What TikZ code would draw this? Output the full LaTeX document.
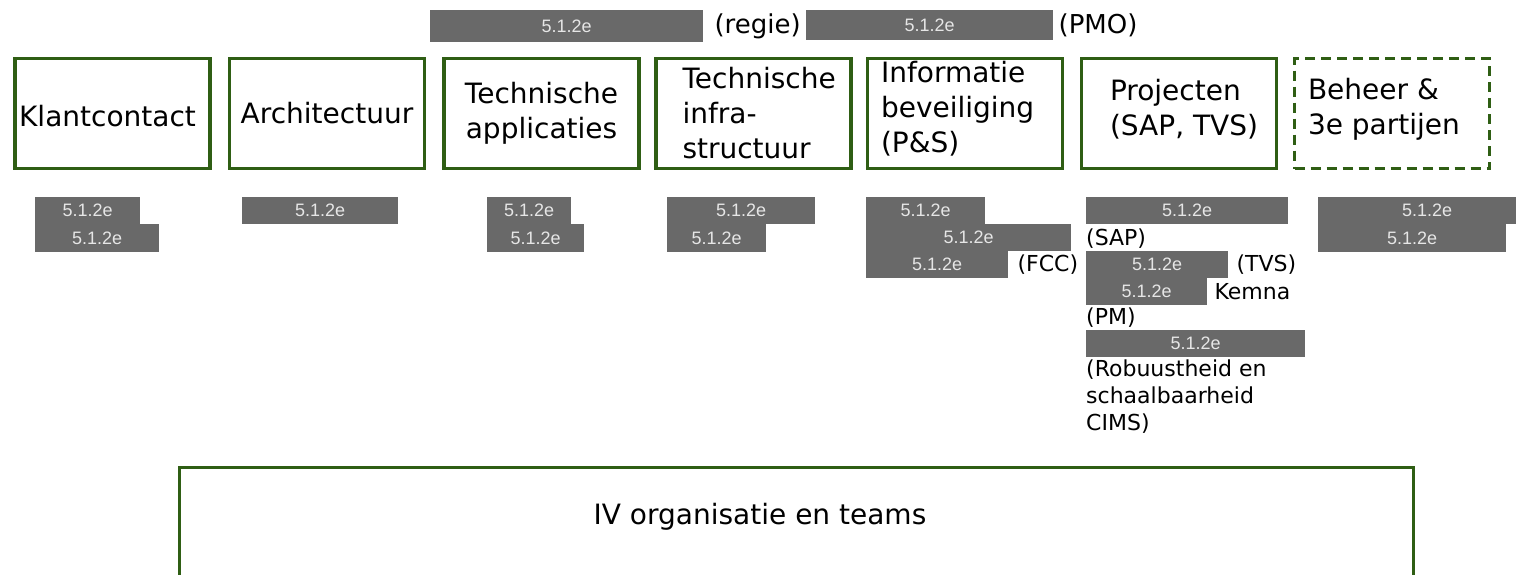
\documentclass[tikz,border=0pt]{standalone}
\usepackage{fontspec}
\setmainfont{DejaVu Sans}
\newfontfamily\barfont{Liberation Sans}
\usetikzlibrary{positioning}
\definecolor{ivgreen}{HTML}{2F5E14}
\definecolor{bargray}{HTML}{696969}
\definecolor{bartext}{HTML}{E6E6E6}
\newcommand{\unitfont}{\fontsize{28}{35}\selectfont}
\newcommand{\notefont}{\fontsize{22}{27}\selectfont}
\newcommand{\topfont}{\fontsize{26}{32}\selectfont}
\tikzset{
  unitbox/.style={draw=ivgreen, line width=3.4pt, minimum width=195pt, minimum height=110pt,
    inner sep=0pt, font=\unitfont, align=center},
  extbox/.style={unitbox, dash pattern=on 10pt off 6pt},
  unittext/.style={font=\unitfont, align=left, inner sep=0pt, anchor=west},
  grayblock/.style={fill=bargray, text=bartext, font=\barfont\fontsize{18}{20}\selectfont,
    inner sep=0pt, anchor=north west},
  note/.style={font=\notefont, inner sep=0pt, align=left},
}

\begin{document}
\begin{tikzpicture}[x=1pt,y=-1pt]
                \useasboundingbox (0,0) rectangle (1516,574);

                % Top bars
                \node[grayblock, minimum width=273pt, minimum height=32pt] (regbar) at (430,10) {5.1.2e};
                \node[font=\topfont, inner sep=0pt, right=11pt of regbar] (regie) {(regie)};
                \node[grayblock, minimum width=247pt, minimum height=30pt] (pmobar) at (806,10) {5.1.2e};
                \node[font=\topfont, inner sep=0pt, right=5pt of pmobar] (pmo) {(PMO)};

                % Units
                \node[unitbox] (klant) at (112.5,113.5) {};
                \node[font=\unitfont, inner sep=0pt] (klanttext) at ([xshift=-5pt,yshift=-3pt]klant.center) {Klantcontact};
                \node[unitbox] (arch) at (327,113.5) {Architectuur};
                \node[unitbox] (techapp) at (541.5,113.5) {Technische\\applicaties};
                \node[unitbox] (infra) at (753.5,113.5) {};
                \node[unittext] (infratext) at ([xshift=28pt]infra.west) {Technische\\infra-\\structuur};
                \node[unitbox] (info) at (965,113.5) {};
                \node[unittext] (infotext) at ([xshift=15pt,yshift=5pt]info.west) {Informatie\\beveiliging\\(P\&S)};
                \node[unitbox] (proj) at (1179,113.5) {};
                \node[unittext] (projtext) at ([xshift=30pt,yshift=4.5pt]proj.west) {Projecten\\(SAP, TVS)};
                \node[extbox] (beheer) at (1392,113.5) {};
                \node[unittext] (beheertext) at ([xshift=15pt,yshift=4.5pt]beheer.west) {Beheer \&\\3e partijen};

                % Names below the units
                \node[grayblock, minimum width=105pt, minimum height=27pt] (klant1) at (35,197) {5.1.2e};
                \node[grayblock, minimum width=124pt, minimum height=28pt] (klant2) at (35,224) {5.1.2e};

                \node[grayblock, minimum width=156pt, minimum height=27pt] (arch1) at (242,197) {5.1.2e};

                \node[grayblock, minimum width=84pt, minimum height=27pt] (techapp1) at (487,197) {5.1.2e};
                \node[grayblock, minimum width=97pt, minimum height=28pt] (techapp2) at (487,224) {5.1.2e};

                \node[grayblock, minimum width=148pt, minimum height=27pt] (infra1) at (667,197) {5.1.2e};
                \node[grayblock, minimum width=99pt, minimum height=28pt] (infra2) at (667,224) {5.1.2e};

                \node[grayblock, minimum width=119pt, minimum height=27pt] (info1) at (866,197) {5.1.2e};
                \node[grayblock, minimum width=205pt, minimum height=27pt] (info2) at (866,224) {5.1.2e};
                \node[grayblock, minimum width=142pt, minimum height=27pt] (info3) at (866,251) {5.1.2e};
                \node[note, right=9pt of info3] (fcc) {(FCC)};

                \node[grayblock, minimum width=202pt, minimum height=27pt] (proj1) at (1086,197) {5.1.2e};
                \node[note, below right=4pt and 0pt of proj1.south west] (sap) {(SAP)};
                \node[grayblock, minimum width=142pt, minimum height=27pt] (proj2) at (1086,251) {5.1.2e};
                \node[note, right=8pt of proj2] (tvs) {(TVS)};
                \node[grayblock, minimum width=121pt, minimum height=27pt] (proj3) at (1086,278) {5.1.2e};
                \node[note, right=7pt of proj3] (kemna) {Kemna};
                \node[note, below right=2.5pt and 0pt of proj3.south west] (pm) {(PM)};
                \node[grayblock, minimum width=219pt, minimum height=27pt] (proj4) at (1086,330) {5.1.2e};
                \node[note, below right=2.5pt and 0pt of proj4.south west] (cims) {(Robuustheid en\\schaalbaarheid\\CIMS)};

                \node[grayblock, minimum width=218pt, minimum height=27pt] (beheer1) at (1318,197) {5.1.2e};
                \node[grayblock, minimum width=188pt, minimum height=28pt] (beheer2) at (1318,224) {5.1.2e};

                % Organisation
                \node[unitbox, minimum width=1234pt, minimum height=140pt, anchor=north] (ivorg) at (796.5,465.5) {};
                \node[font=\unitfont, inner sep=0pt] (ivtitle) at (760,516.7) {IV organisatie en teams};
            \end{tikzpicture}
\end{document}
